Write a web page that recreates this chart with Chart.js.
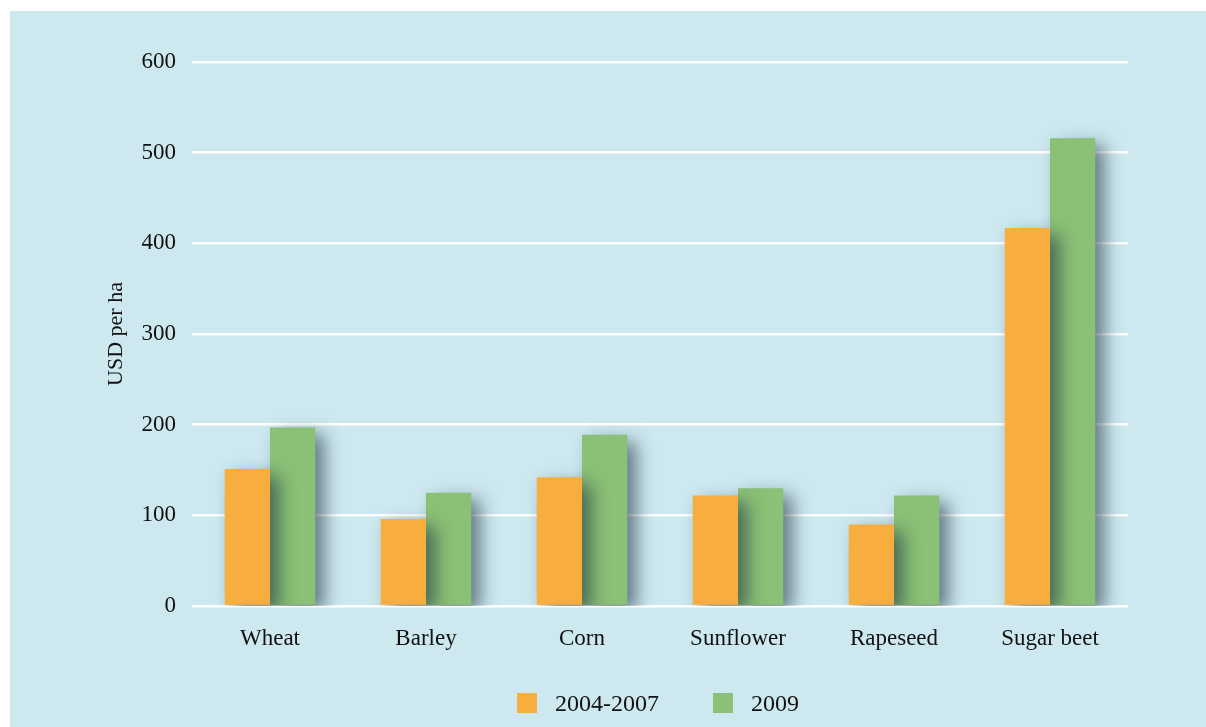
<!DOCTYPE html>
<html>
<head>
<meta charset="utf-8">
<script src="https://cdn.jsdelivr.net/npm/chart.js@4.4.0/dist/chart.umd.min.js"></script>
<style>
  html, body { margin: 0; padding: 0; background: #ffffff; }
  #panel {
    position: absolute; left: 10px; top: 11px;
    width: 1196px; height: 716px;
    background: #cde9ef;
  }
  #wrap { position: absolute; left: 0; top: 0; width: 1196px; height: 716px; }
  #legend {
    position: absolute; left: 180px; top: 680px; width: 936px; height: 24px;
    display: flex; justify-content: center; align-items: center;
    font-family: "Liberation Serif", serif; font-size: 24px; color: #111;
  }
  .item { display: flex; align-items: center; }
  .box { width: 20px; height: 20px; margin-right: 18px; }
</style>
</head>
<body>
<div id="panel">
  <div id="wrap"><canvas id="cropChart"></canvas></div>
  <div id="legend"></div>
</div>
<script>
// Crop data (USD per ha)
const crops = ["Wheat", "Barley", "Corn", "Sunflower", "Rapeseed", "Sugar beet"];
const period2004to2007 = [151, 96, 142, 122, 90, 417];
const year2009 = [197, 125, 189, 130, 122, 516];
const yTicks = [0, 100, 200, 300, 400, 500, 600];

const serif = "'Liberation Serif', 'Times New Roman', serif";

// Drop shadow behind the bars
const barShadow = {
  id: "barShadow",
  beforeDatasetsDraw(chart) {
    const ctx = chart.ctx;
    ctx.save();
    ctx.shadowColor = "rgba(30, 50, 65, 0.62)";
    ctx.shadowBlur = 18;
    ctx.shadowOffsetX = 9;
    ctx.shadowOffsetY = 7;
  },
  afterDatasetsDraw(chart) {
    chart.ctx.restore();
  },
};

const config = {
  type: "bar",
  data: {
    labels: crops,
    datasets: [
      { label: "2004-2007", data: period2004to2007, backgroundColor: "#f7ae3e" },
      { label: "2009", data: year2009, backgroundColor: "#8bc176" },
    ],
  },
  options: {
    responsive: true,
    maintainAspectRatio: false,
    animation: false,
    categoryPercentage: 0.58,
    barPercentage: 1.0,
    layout: { padding: { left: 0, right: 78, top: 51, bottom: 61 } },
    plugins: {
      legend: { display: false },
      tooltip: { enabled: false },
    },
    scales: {
      x: {
        afterFit(scale) {
          scale.height = 60;
        },
        grid: { display: false, drawTicks: false },
        border: { display: false },
        ticks: { color: "#111", font: { family: serif, size: 23 }, padding: 19 },
      },
      y: {
        min: 0,
        max: 600,
        afterBuildTicks(scale) {
          scale.ticks = yTicks.map(v => ({ value: v }));
        },
        afterFit(scale) {
          scale.width = 182;
        },
        grid: { color: "#ffffff", lineWidth: 2.5, drawTicks: false },
        border: { display: false },
        ticks: { color: "#111", font: { family: serif, size: 23 }, padding: 16 },
        title: {
          display: true,
          text: "USD per ha",
          color: "#111",
          font: { family: serif, size: 22 },
          padding: { top: 93, bottom: 0 },
        },
      },
    },
  },
  plugins: [barShadow],
};

const cropChart = new Chart(document.getElementById("cropChart"), config);

// Legend below the chart
const legendEl = document.getElementById("legend");
config.data.datasets.forEach((ds, i) => {
  const item = document.createElement("div");
  item.className = "item";
  if (i > 0) item.style.marginLeft = "54px";
  const box = document.createElement("span");
  box.className = "box";
  box.style.background = ds.backgroundColor;
  const txt = document.createElement("span");
  txt.textContent = ds.label;
  item.appendChild(box);
  item.appendChild(txt);
  legendEl.appendChild(item);
});
</script>
</body>
</html>
